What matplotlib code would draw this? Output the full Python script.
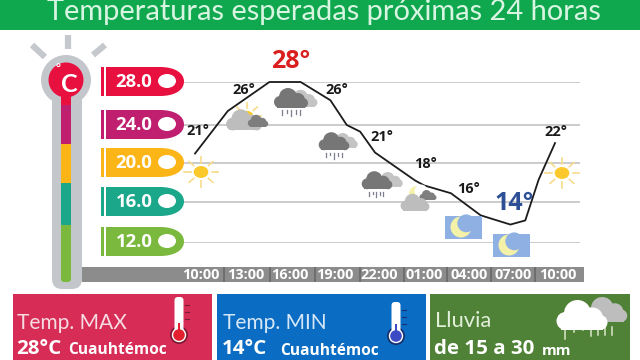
import numpy as np
import matplotlib
matplotlib.use("Agg")
import matplotlib.pyplot as plt
from matplotlib.patches import Rectangle, Circle, Ellipse, FancyBboxPatch, PathPatch
from matplotlib.path import Path

# values
hours = [-0.4, 1.8, 4.6, 6.7, 8.7, 9.8, 10.7, 11.7, 14.4, 15, 16.8, 18.8, 20.8, 21.8, 22.7, 23.8]
temps = [21.0, 25.3, 28, 28, 26.3, 24, 23.3, 21.1, 18.2, 17.7, 16.9, 14.7, 13.8, 14.2, 18.3, 22.1]
tick_hours = [0, 3, 6, 9, 12, 15, 18, 21, 24]
tick_labels = ["10:00", "13:00", "16:00", "19:00", "22:00", "01:00", "04:00", "07:00", "10:00"]
levels = [28.0, 24.0, 20.0, 16.0, 12.0]
level_cols = ["#e8103f", "#c01e6e", "#fbb516", "#1ba78a", "#7ab93d"]
point_labels = ["21°", "26°", "28°", "26°", "21°", "18°", "16°", "14°", "22°"]

W, H = 640, 360
plt.rcParams["font.family"] = ["Lato", "DejaVu Sans"]

fig = plt.figure(figsize=(6.4, 3.6), dpi=100, facecolor="white")
bg = fig.add_axes([0, 0, 1, 1], zorder=1)
bg.set_xlim(0, W)
bg.set_ylim(H, 0)
bg.axis("off")
# icons go on their own layer so they cover the grid lines
fg = fig.add_axes([0, 0, 1, 1], zorder=3)
fg.set_xlim(0, W)
fg.set_ylim(H, 0)
fg.axis("off")

def px(size):
    return size * 0.72

def rect(x0, y0, x1, y1, col, z=2, a=bg):
    a.add_patch(Rectangle((x0, y0), x1 - x0, y1 - y0, fc=col, ec="none", zorder=z))

def cloud(cx, cy, s, col, z=5, a=fg):
    # blob of circles on a flat base
    for dx, dy, r in [(-11, 2, 6), (-3, -3, 9), (7, 0, 7), (12, 3, 5)]:
        a.add_patch(Circle((cx + dx * s, cy + dy * s), r * s, fc=col, ec="none", zorder=z))
    a.add_patch(Rectangle((cx - 14 * s, cy + 1 * s), 28 * s, 7 * s, fc=col, ec="none", zorder=z))

def rain(cx, cy, s, col="#7b7f8f", z=5):
    for dx, l in zip([-10, -5, 0, 5, 10], [5, 3, 7, 4, 5]):
        fg.plot([cx + dx * s] * 2, [cy, cy + l * s], color=col, lw=0.9, zorder=z)

def sun(cx, cy, r=7, z=5):
    fg.add_patch(Ellipse((cx, cy), r * 2.1, r * 1.7, fc="#fbc92c", ec="none", zorder=z))
    for a in np.arange(0, 360, 45):
        c, s = np.cos(np.radians(a)), np.sin(np.radians(a))
        fg.plot([cx + c * r * 1.5, cx + c * r * 2.4], [cy + s * r * 1.3, cy + s * r * 2.1],
                color="#f7dc8a", lw=1.2, zorder=z)

def moon(cx, cy, r, bgcol, z=6):
    fg.add_patch(Circle((cx, cy), r, fc="#f3f2a8", ec="none", zorder=z))
    fg.add_patch(Circle((cx + r * 0.5, cy - r * 0.35), r * 0.85, fc=bgcol, ec="none", zorder=z))

def pin(y0, y1, col):
    bg.add_patch(Rectangle((101, y0), 3, y1 - y0, fc=col, ec="none", zorder=3))
    mid = (y0 + y1) / 2
    verts = [(106, y0), (160, y0), (175, y0), (184, y0 + 6), (184, mid),
             (184, y1 - 6), (175, y1), (160, y1), (106, y1), (106, y0)]
    codes = [Path.MOVETO, Path.LINETO, Path.CURVE4, Path.CURVE4, Path.CURVE4,
             Path.CURVE4, Path.CURVE4, Path.CURVE4, Path.LINETO, Path.CLOSEPOLY]
    bg.add_patch(PathPatch(Path(verts, codes), fc=col, ec="none", zorder=3))

# title band
rect(0, 0, W, 30, "#10a84f")
bg.text(324, 12, "Temperaturas esperadas próximas 24 horas", color="#d8f5e2", fontsize=px(29),
        ha="center", va="center", zorder=3)

# thermometer on the left
for p, q in [((32, 45), (45, 57)), ((68, 35), (68, 49)), ((105, 45), (93, 55))]:
    bg.plot([p[0], q[0]], [p[1], q[1]], color="#c5c8cd", lw=4.5, solid_capstyle="butt", zorder=2)
bg.add_patch(Circle((66, 80), 25, fc="#c3c6cb", ec="none", zorder=2))
bg.add_patch(FancyBboxPatch((52, 90), 30, 199, boxstyle="round,pad=0,rounding_size=10",
                            fc="#c3c6cb", ec="none", zorder=2))
bar_edges = [90, 105, 144, 183, 225, 278]
for i, col in enumerate(level_cols):
    rect(61, bar_edges[i], 71, bar_edges[i + 1], col, z=3)
bg.add_patch(FancyBboxPatch((61, 270), 10, 12, boxstyle="round,pad=0,rounding_size=3",
                            fc=level_cols[4], ec="none", zorder=3))
bg.add_patch(Circle((66, 80), 17.5, fc=level_cols[0], ec="none", zorder=4))
bg.text(69, 84, "C", color="white", fontsize=px(25), fontweight="bold", ha="center", va="center", zorder=5)
bg.text(58, 69, "°", color="white", fontsize=px(12), fontweight="bold", ha="center", va="center", zorder=6)

# level tags
pin_tops = [67, 110, 148, 187, 227]
for lev, col, top in zip(levels, level_cols, pin_tops):
    pin(top, top + 29, col)
    bg.add_patch(Ellipse((167, top + 14), 18, 14, fc="white", ec="none", zorder=4))
    bg.text(134, top + 15, "%.1f" % lev, color="white", fontsize=px(18.5), fontweight="bold",
            family="Open Sans", ha="center", va="center", zorder=4)

# time bar
rect(82, 267, 584, 282, "#8c8c8c", z=1)
for x in [224, 270, 315, 360, 404, 447, 491, 535]:
    rect(x - 0.8, 267, x + 0.8, 282, "#6e6e6e", z=1.5)

# chart axes, y scale follows the uneven spacing of the grid lines
def to_px(t):
    return np.interp(t, [12, 16, 20, 24, 28], [0, 41, 80, 118, 161])

def from_px(p):
    return np.interp(p, [0, 41, 80, 118, 161], [12, 16, 20, 24, 28])

x_l, x_r = 184, 580
ax = fig.add_axes([x_l / W, 1 - 243 / H, (x_r - x_l) / W, (243 - 82) / H], zorder=2)
ax.patch.set_alpha(0)
ax.set_yscale("function", functions=(to_px, from_px))
ax.set_ylim(12, 28)
ax.set_xlim((x_l - 201) / 14.875, (x_r - 201) / 14.875)
for s in ax.spines.values():
    s.set_visible(False)
ax.set_yticks(levels)
ax.set_yticklabels([])
ax.yaxis.set_minor_locator(matplotlib.ticker.NullLocator())
ax.set_xticks(tick_hours)
ax.set_xticklabels(tick_labels, color="white", fontsize=px(14.5), fontweight="bold", family="Open Sans")
ax.tick_params(axis="both", length=0)
ax.tick_params(axis="x", pad=px(25))
ax.grid(axis="y", color="#bdbdbd", lw=1.1, zorder=0)
ax.set_axisbelow(True)
ax.plot(hours, temps, color="#1c1c1c", lw=1.3, clip_on=False, zorder=3)

# labels above the line
label_pos = [(198, 131), (244, 90), (291, 61), (337, 90), (382, 137), (425, 164), (468, 189), (514, 203), (556, 132)]
for lab, (x, y) in zip(point_labels, label_pos):
    col, size = "#1a1a1a", 14.5
    if lab == "28°":
        col, size = "#d9201f", 25
    if lab == "14°":
        col, size = "#2c4f96", 25
    fg.text(x, y, lab, color=col, fontsize=px(size), fontweight="bold",
            family="Open Sans", ha="center", va="center", zorder=8)

# weather icons
sun(201, 172)
sun(562, 173)
sun(247, 116, r=6)
cloud(244, 122, 1.05, "#bdbdbd", z=6)
cloud(258, 122, 0.6, "#7e7e7e", z=7)
cloud(303, 100, 0.85, "#c4c4c4")
cloud(291, 100, 1.0, "#767676", z=6)
rain(291, 110, 0.9)
cloud(345, 142, 0.75, "#c4c4c4")
cloud(334, 143, 0.9, "#767676", z=6)
rain(334, 153, 0.8)
cloud(390, 181, 0.75, "#c4c4c4")
cloud(377, 182, 0.9, "#767676", z=6)
rain(376, 192, 0.7)
fg.add_patch(Circle((417, 194), 8, fc="#f3f2a8", ec="none", zorder=5))
fg.add_patch(Circle((421, 191), 6.5, fc="white", ec="none", zorder=5))
cloud(428, 196, 0.5, "#7e7e7e", z=6)
cloud(415, 204, 0.85, "#bdbdbd", z=7)
for x0, y0 in [(445, 216), (493, 234)]:
    rect(x0, y0, x0 + 37, y0 + 23, "#8fb0e3", z=4, a=fg)
    moon(x0 + 16, y0 + 11, 10.5, "#8fb0e3")

# bottom panels
rect(13, 294, 212, 360, "#d62c56")
rect(217, 294, 426, 360, "#0a6cc2")
rect(430, 294, 630, 360, "#4f8136")
bg.text(17, 323, "Temp. MAX", color="#f6dbe2", fontsize=px(21), ha="left", va="center", zorder=4)
bg.text(223, 323, "Temp. MIN", color="#d6e8f7", fontsize=px(21), ha="left", va="center", zorder=4)
bg.text(435, 321, "Lluvia", color="#e2efd9", fontsize=px(22), ha="left", va="center", zorder=4)
bold = dict(color="white", fontweight="bold", family="Open Sans", va="center", zorder=4)
bg.text(16, 349, "28°C", fontsize=px(20.5), ha="left", **bold)
bg.text(68, 350, "Cuauhtémoc", fontsize=px(15.5), ha="left", **bold)
bg.text(222, 349, "14°C", fontsize=px(20.5), ha="left", **bold)
bg.text(280, 351, "Cuauhtémoc", fontsize=px(15.5), ha="left", **bold)
bg.text(434, 349, "de 15 a 30", fontsize=px(20.5), ha="left", **bold)
bg.text(542, 351, "mm", fontsize=px(15), ha="left", **bold)

# panel thermometers
for x, y0, y1, y_b, col, edge in [(179, 297, 333, 335, "#e3202e", "#7c1a33"), (396, 302, 334, 336, "#3c4bc4", "#17306f")]:
    bg.add_patch(Circle((x, y_b), 9, fc=edge, ec="none", zorder=4))
    bg.add_patch(FancyBboxPatch((x - 4.5, y0), 9, y1 - y0, boxstyle="round,pad=0,rounding_size=3.5",
                                fc="white", ec="none", zorder=5))
    bg.add_patch(Circle((x, y_b), 6.5, fc=col, ec="white", lw=1, zorder=6))
    rect(x - 1, y1 - 10, x + 1, y1, col, z=6)
    for yy in [y0 + 8, y0 + 15, y0 + 22]:
        bg.plot([x + 6, x + 10], [yy, yy], color=edge, lw=0.8, zorder=5)

# rain icon on the green panel
cloud(606, 312, 1.25, "#bdbdbd", z=4, a=bg)
cloud(582, 318, 1.5, "white", z=5, a=bg)
for x, l in [(565, 12), (574, 5), (583, 3), (591, 9), (598, 8), (605, 8), (612, 8)]:
    bg.plot([x, x], [327, 327 + l], color="#dbe8c9", lw=1.1, zorder=4)

fig.savefig("out.png", dpi=100, facecolor="white")
